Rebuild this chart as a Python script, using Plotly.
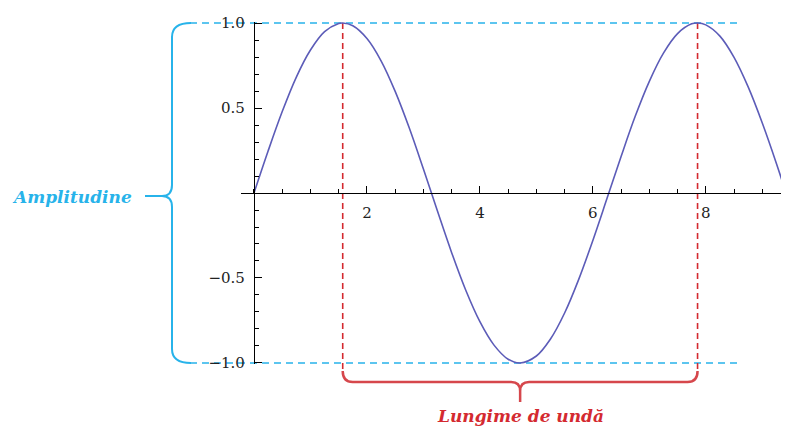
import plotly.graph_objects as go

# ---- data ----
wave_x = [0.0, 0.25, 0.5, 0.75, 1.0, 1.25, 1.5, 1.571, 1.75, 2.0, 2.25, 2.5, 2.75, 3.0,
          3.25, 3.5, 3.75, 4.0, 4.25, 4.5, 4.712, 5.0, 5.25, 5.5, 5.75, 6.0, 6.25,
          6.5, 6.75, 7.0, 7.25, 7.5, 7.75, 7.854, 8.0, 8.25, 8.5, 8.75, 9.0, 9.25, 9.42]
wave_y = [0.0, 0.247, 0.479, 0.682, 0.841, 0.949, 0.997, 1.0, 0.984, 0.909, 0.778, 0.598,
          0.382, 0.141, -0.108, -0.351, -0.572, -0.757, -0.895, -0.978, -1.0, -0.959,
          -0.859, -0.706, -0.508, -0.279, -0.033, 0.215, 0.451, 0.657, 0.823, 0.938,
          0.995, 1.0, 0.989, 0.923, 0.798, 0.624, 0.412, 0.174, 0.0]
peak_x = [1.571, 7.854]          # crests used for the wavelength marker
amplitude = [1.0, -1.0]          # amplitude guide lines
x_tickvals = [2, 4, 6, 8]
x_ticktext = ["2", "4", "6", "8"]
y_tickvals = [-1.0, -0.5, 0.5, 1.0]
y_ticktext = ["\u22121.0", "\u22120.5", "0.5", "1.0"]
label_amp = "Amplitudine"
label_wave = "Lungime de undă"

# ---- layout geometry (page body has an 8px margin) ----
OFF = 8
W, H = 789 - OFF, 430 - OFF
L, R, T, B = 241 - OFF, 3, 22 - OFF, 66
PW, PH = W - L - R, H - T - B
XMIN, XMAX = -0.23, 9.42
YMIN, YMAX = -1.006, 1.006

BLUE = "#27b3ea"
RED_D = "#d42a30"
RED_B = "#d6474c"
CURVE = "#5c5cb8"


def xp(x):  # data x -> paper
    return (x - XMIN) / (XMAX - XMIN)


def yp(y):  # data y -> paper
    return (y - YMIN) / (YMAX - YMIN)


def px2x(px):  # screen pixel column -> paper
    return (px - OFF - L) / PW


def py2y(py):  # screen pixel row -> paper
    return (H - B - (py - OFF)) / PH


def ox(p):  # pixel offset -> paper x offset
    return p / PW


def oy(p):
    return p / PH


fig = go.Figure()
fig.add_trace(go.Scatter(x=wave_x, y=wave_y, mode="lines",
                         line=dict(color=CURVE, width=1.6, shape="spline", smoothing=1.0),
                         hoverinfo="skip", showlegend=False))

shapes = []
# blue dashed amplitude lines
for a in amplitude:
    shapes.append(dict(type="line", xref="paper", yref="paper",
                       x0=px2x(190), x1=px2x(740), y0=yp(a), y1=yp(a),
                       line=dict(color=BLUE, width=1.6, dash="7px,5px"), layer="below"))
# red dashed wavelength lines
for p in peak_x:
    shapes.append(dict(type="line", xref="paper", yref="paper",
                       x0=xp(p), x1=xp(p), y0=yp(1.0), y1=py2y(371),
                       line=dict(color=RED_D, width=1.6, dash="6px,4px"), layer="below"))

# blue brace (amplitude)
xb = px2x(172)
yt, ybm = yp(1.0), yp(-1.0)
ym = py2y(196)
blue_path = (
    f"M {xb+ox(19)},{yt} Q {xb},{yt} {xb},{yt-oy(14)} "
    f"L {xb},{ym+oy(11)} Q {xb},{ym} {xb-ox(10)},{ym} L {xb-ox(27)},{ym} "
    f"M {xb-ox(10)},{ym} Q {xb},{ym} {xb},{ym-oy(11)} "
    f"L {xb},{ybm+oy(14)} Q {xb},{ybm} {xb+ox(19)},{ybm}"
)
shapes.append(dict(type="path", xref="paper", yref="paper", path=blue_path,
                   line=dict(color=BLUE, width=2)))

# red brace (wavelength)
xl, xr = xp(peak_x[0]), xp(peak_x[1])
xm = (xl + xr) / 2
yh = py2y(382)
ys = py2y(371)
red_path = (
    f"M {xl},{ys} Q {xl},{yh} {xl+ox(10)},{yh} L {xm-ox(9)},{yh} "
    f"Q {xm},{yh} {xm},{yh-oy(9)} L {xm},{py2y(402)} "
    f"M {xm},{yh-oy(9)} Q {xm},{yh} {xm+ox(9)},{yh} L {xr-ox(10)},{yh} "
    f"Q {xr},{yh} {xr},{ys}"
)
shapes.append(dict(type="path", xref="paper", yref="paper", path=red_path,
                   line=dict(color=RED_B, width=2.5)))

annotations = [
    dict(text=f"<b><i>{label_amp}</i></b>", xref="paper", yref="paper",
         x=px2x(72), y=py2y(197), showarrow=False, xanchor="center", yanchor="middle",
         font=dict(family="DejaVu Serif", size=17, color=BLUE)),
    dict(text=f"<b><i>{label_wave}</i></b>", xref="paper", yref="paper",
         x=(xl + xr) / 2, y=py2y(416), showarrow=False, xanchor="center", yanchor="middle",
         font=dict(family="DejaVu Serif", size=17, color=RED_D)),
]

tickfont = dict(family="DejaVu Serif", size=15, color="#222222")

fig.update_layout(
    width=W, height=H,
    margin=dict(l=L, r=R, t=T, b=B, pad=0, autoexpand=False),
    paper_bgcolor="white", plot_bgcolor="white",
    shapes=shapes, annotations=annotations,
    xaxis=dict(range=[XMIN, XMAX], anchor="free", position=0.5, automargin=False,
               showline=True, linecolor="black", linewidth=1.3,
               showgrid=False, zeroline=False,
               tickmode="array", tickvals=x_tickvals, ticktext=x_ticktext,
               ticks="inside", ticklen=7, tickwidth=1, tickcolor="black",
               ticklabelstandoff=6, tickfont=tickfont,
               minor=dict(tickmode="linear", tick0=0, dtick=0.5, ticks="inside",
                          ticklen=4, tickwidth=1, tickcolor="black", showgrid=False)),
    yaxis=dict(range=[YMIN, YMAX], anchor="free", position=xp(0.0), automargin=False,
               showline=True, linecolor="black", linewidth=1.3,
               showgrid=False, zeroline=False,
               tickmode="array", tickvals=y_tickvals, ticktext=y_ticktext,
               ticks="inside", ticklen=7, tickwidth=1, tickcolor="black",
               ticklabelstandoff=6, tickfont=tickfont,
               minor=dict(tickmode="linear", tick0=0, dtick=0.1, ticks="inside",
                          ticklen=4, tickwidth=1, tickcolor="black", showgrid=False)),
)

fig.write_html("out.html")
